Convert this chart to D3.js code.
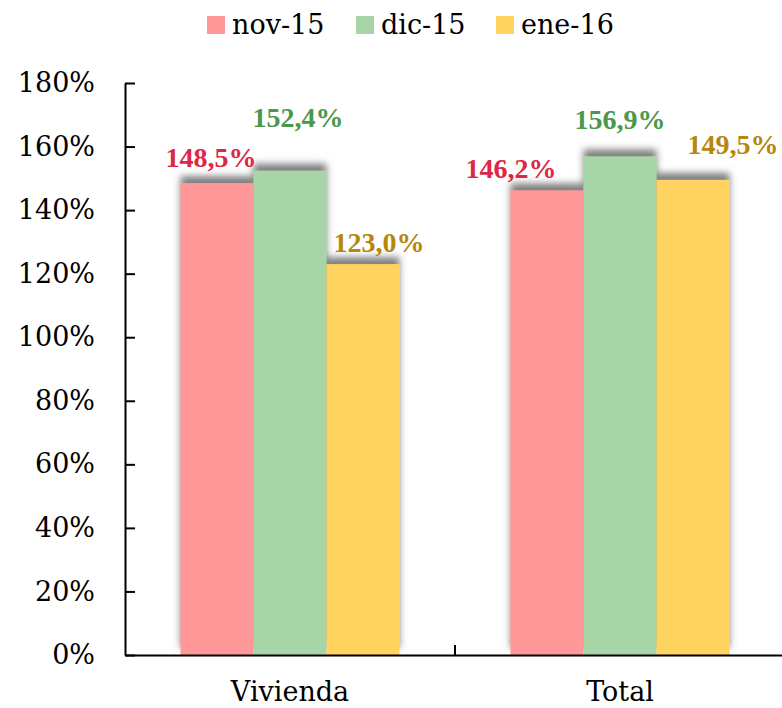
<!DOCTYPE html>
<html>
<head>
<meta charset="utf-8">
<script src="https://cdn.jsdelivr.net/npm/d3@7"></script>
<style>
  html, body { margin: 0; padding: 0; background: #ffffff; }
  svg { display: block; }
</style>
</head>
<body>
<svg id="chart" width="782" height="708"></svg>
<script>
// Data
const categories = ["Vivienda", "Total"];
const seriesNames = ["nov-15", "dic-15", "ene-16"];
const novValues = [148.5, 146.2];
const dicValues = [152.4, 156.9];
const eneValues = [123.0, 149.5];
const yTicks = [0, 20, 40, 60, 80, 100, 120, 140, 160, 180];

// Styling
const fillColors = ["#FF9999", "#A8D5A8", "#FFD35F"];
const labelColors = ["#DC2746", "#4A984A", "#B8860B"];
const textFont = "'DejaVu Serif', 'Liberation Serif', serif";
const labelFont = "'Liberation Serif', 'DejaVu Serif', serif";
// Manual nudges for the value labels, [dx, dy] from bar centre / bar top
const labelNudges = {
  "Vivienda": [[-6, -16], [8, -44], [16, -12]],
  "Total":    [[-36, -12], [0, -27], [40, -26]]
};

const seriesValues = [novValues, dicValues, eneValues];
const rows = categories.map((c, i) => ({
  category: c,
  values: seriesNames.map((s, k) => ({ series: s, k: k, value: seriesValues[k][i] }))
}));

const svg = d3.select("#chart");
const plotLeft = 125, plotRight = 785, plotTop = 83, plotBottom = 655;

const x0 = d3.scaleBand().domain(categories).range([plotLeft, plotRight]).paddingInner(0).paddingOuter(0);
const x1 = d3.scaleBand().domain(seriesNames).range([0, x0.bandwidth()]).paddingInner(0).paddingOuter(0.76);
const y = d3.scaleLinear().domain([0, 180]).range([plotBottom, plotTop]);

// Soft shadow cast upward from the bar tops
const defs = svg.append("defs");
const f = defs.append("filter").attr("id", "barShadow")
  .attr("x", "-20%").attr("y", "-20%").attr("width", "140%").attr("height", "140%");
f.append("feGaussianBlur").attr("in", "SourceAlpha").attr("stdDeviation", 3.5).attr("result", "blur");
f.append("feOffset").attr("in", "blur").attr("dx", 0).attr("dy", -7).attr("result", "off");
f.append("feFlood").attr("flood-color", "#555555").attr("flood-opacity", 0.75).attr("result", "col");
f.append("feComposite").attr("in", "col").attr("in2", "off").attr("operator", "in").attr("result", "shadow");
const m = f.append("feMerge");
m.append("feMergeNode").attr("in", "shadow");
m.append("feMergeNode").attr("in", "SourceGraphic");

// Bars
const groups = svg.append("g").selectAll("g.cat").data(rows).join("g")
  .attr("class", "cat")
  .attr("transform", d => `translate(${x0(d.category)},0)`)
  .attr("filter", "url(#barShadow)");

groups.selectAll("rect").data(d => d.values).join("rect")
  .attr("x", d => x1(d.series))
  .attr("y", d => y(d.value))
  .attr("width", x1.bandwidth())
  .attr("height", d => y(0) - y(d.value))
  .attr("fill", d => fillColors[d.k]);

// Value labels
const fmt = v => v.toFixed(1).replace(".", ",") + "%";
svg.append("g").selectAll("g.lab").data(rows).join("g")
  .attr("transform", d => `translate(${x0(d.category)},0)`)
  .each(function(row) {
    d3.select(this).selectAll("text").data(row.values).join("text")
      .attr("x", d => x1(d.series) + x1.bandwidth() / 2 + labelNudges[row.category][d.k][0])
      .attr("y", d => y(d.value) + labelNudges[row.category][d.k][1])
      .attr("text-anchor", "middle")
      .attr("font-family", labelFont)
      .attr("font-size", 28)
      .attr("font-weight", "bold")
      .attr("fill", d => labelColors[d.k])
      .text(d => fmt(d.value));
  });

// Y axis
const yAxis = d3.axisLeft(y).tickValues(yTicks).tickFormat(d => d + "%").tickSizeInner(-10).tickSizeOuter(0).tickPadding(30);
const gy = svg.append("g").attr("transform", `translate(${plotLeft},0)`).call(yAxis);
gy.select(".domain").attr("stroke", "#000").attr("stroke-width", 2);
gy.selectAll(".tick line").attr("stroke", "#000").attr("stroke-width", 2);
gy.selectAll(".tick text").attr("font-size", 27).attr("fill", "#000")
  .attr("font-family", textFont);

// X axis
const xAxis = d3.axisBottom(x0).tickSize(0).tickPadding(27);
const gx = svg.append("g").attr("transform", `translate(0,${plotBottom})`).call(xAxis);
gx.select(".domain").attr("stroke", "#000").attr("stroke-width", 2);
gx.selectAll(".tick text").attr("font-size", 27).attr("fill", "#000")
  .attr("font-family", textFont);
// Divider tick between categories
gx.append("line")
  .attr("x1", x0("Total")).attr("x2", x0("Total"))
  .attr("y1", 0).attr("y2", -10)
  .attr("stroke", "#000").attr("stroke-width", 2);

// Legend
const legendX = [207, 356, 496];
const lg = svg.append("g").selectAll("g").data(seriesNames).join("g")
  .attr("transform", (d, i) => `translate(${legendX[i]},16)`);
lg.append("rect").attr("width", 18).attr("height", 18).attr("fill", (d, i) => fillColors[i]);
lg.append("text").attr("x", 25).attr("y", 18).attr("font-size", 27).attr("fill", "#000")
  .attr("font-family", textFont).text(d => d);
</script>
</body>
</html>
